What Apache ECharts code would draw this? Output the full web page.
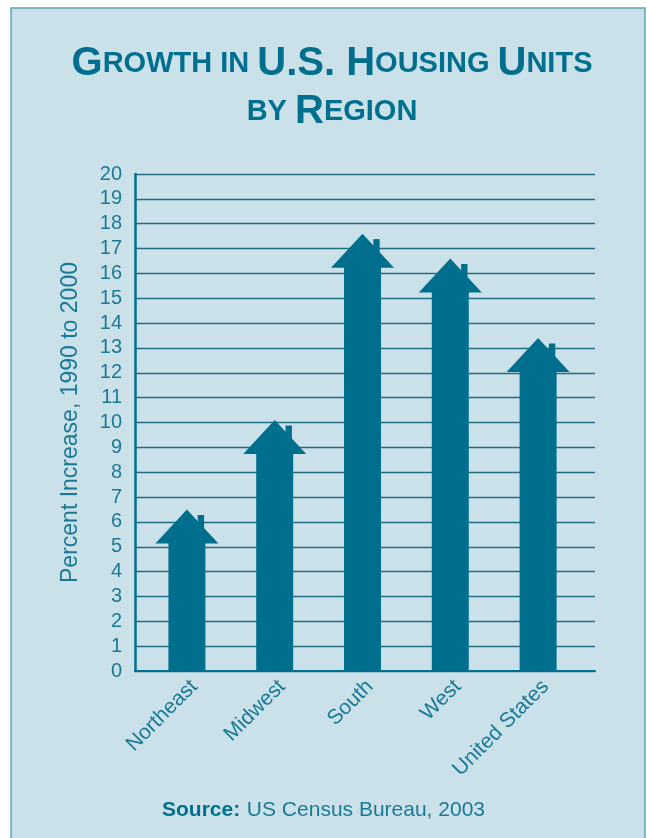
<!DOCTYPE html>
<html>
<head>
<meta charset="utf-8">
<script src="https://cdn.jsdelivr.net/npm/echarts@6/dist/echarts.min.js"></script>
<style>
  html, body { margin: 0; padding: 0; background: #ffffff; }
  #chart { width: 647px; height: 838px; }
</style>
</head>
<body>
<div id="chart"></div>
<script>
// Housing unit growth by region, 1990 to 2000 (percent)
const regions = ['Northeast', 'Midwest', 'South', 'West', 'United States'];
const growth = [6.5, 10.1, 17.6, 16.6, 13.4];
const yTicks = [0, 20, 1]; // min, max, step

const TEAL = '#006f8e';
const TEXT = '#1a7a96';
const PANEL = '#cbe1e9';

const chart = echarts.init(document.getElementById('chart'), null, { renderer: 'canvas' });

// Each bar is drawn as a house: body, pitched roof and a chimney
function renderHouse(params, api) {
  const base = api.coord([api.value(0), 0]);
  const top = api.coord([api.value(0), api.value(1)]);
  const cx = base[0];
  const bodyHalf = 18.5, roofHalf = 31.5, roofH = 34;
  const apexY = top[1];
  const eaveY = apexY + roofH;
  const style = { fill: TEAL };
  return {
    type: 'group',
    children: [
      { type: 'rect', shape: { x: cx + 10.8, y: apexY + 5.5, width: 6.4, height: 20 }, style },
      { type: 'rect', shape: { x: cx - bodyHalf, y: eaveY - 1, width: bodyHalf * 2, height: base[1] - eaveY + 1 }, style },
      { type: 'polygon', shape: { points: [[cx - roofHalf, eaveY], [cx, apexY], [cx + roofHalf, eaveY]] }, style }
    ]
  };
}

const titleFont = 'Liberation Sans';

const option = {
  backgroundColor: '#ffffff',
  animation: false,
  graphic: [
    {
      type: 'rect', z: -10,
      shape: { x: 11, y: 8, width: 634, height: 840 },
      style: { fill: PANEL, stroke: '#5ea5ba', lineWidth: 1.5 }
    },
    {
      type: 'text', x: 332, y: 40,
      style: {
        align: 'center',
        text: '{b|G}{s|ROWTH IN }{b|U.S. H}{s|OUSING }{b|U}{s|NITS}\n{s|BY }{b|R}{s|EGION}',
        rich: {
          b: { fontFamily: titleFont, fontWeight: 'bold', fontSize: 40, fill: TEAL, lineHeight: 48 },
          s: { fontFamily: titleFont, fontWeight: 'bold', fontSize: 29, fill: TEAL, lineHeight: 48 }
        }
      }
    },
    {
      type: 'text', left: 'center', top: 800,
      style: {
        text: '{b|Source:}  {r|US Census Bureau, 2003}',
        rich: {
          b: { fontFamily: 'Liberation Sans', fontWeight: 'bold', fontSize: 21, fill: TEAL },
          r: { fontFamily: 'Liberation Sans', fontSize: 21, fill: TEXT }
        }
      }
    }
  ],
  grid: [
    { left: 135, right: 52, top: 174, bottom: 167, containLabel: false },
    { left: 143, width: 439, top: 174, bottom: 167, containLabel: false }
  ],
  xAxis: [
    {
      gridIndex: 0, type: 'category', data: regions,
      axisLine: { show: true, lineStyle: { color: TEAL, width: 2 } },
      axisTick: { show: false }, axisLabel: { show: false }, splitLine: { show: false }
    },
    {
      gridIndex: 1, type: 'category', data: regions,
      axisLine: { show: false }, axisTick: { show: false },
      axisLabel: {
        rotate: 45, margin: 5, verticalAlign: 'top', color: TEXT,
        fontFamily: 'Liberation Sans', fontSize: 21, interval: 0
      }
    }
  ],
  yAxis: [
    {
      gridIndex: 0, type: 'value', min: yTicks[0], max: yTicks[1], interval: yTicks[2],
      name: 'Percent Increase, 1990 to 2000', nameLocation: 'middle', nameGap: 53,
      nameTextStyle: { color: TEXT, fontFamily: 'Liberation Sans', fontSize: 23 },
      axisLine: { show: true, lineStyle: { color: TEAL, width: 2.5 } },
      axisTick: { show: false },
      axisLabel: { color: TEXT, fontFamily: 'Liberation Sans', fontSize: 20, margin: 13 },
      splitLine: { show: true, lineStyle: { color: '#236d84', width: 1.3 } }
    },
    {
      gridIndex: 1, type: 'value', min: yTicks[0], max: yTicks[1], interval: yTicks[2],
      show: false
    }
  ],
  series: [
    {
      type: 'custom', xAxisIndex: 1, yAxisIndex: 1,
      renderItem: renderHouse,
      encode: { x: 0, y: 1 },
      data: growth.map((v, i) => [i, v]),
      z: 5
    }
  ]
};

chart.setOption(option);
</script>
</body>
</html>
